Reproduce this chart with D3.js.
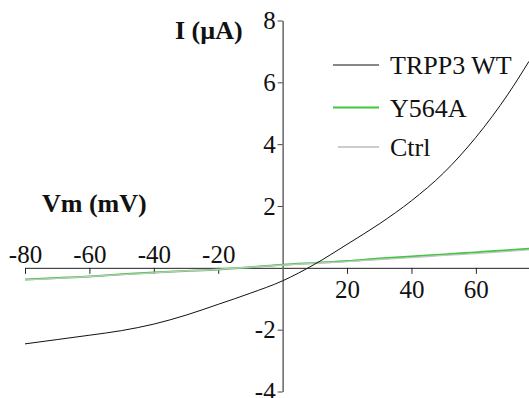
<!DOCTYPE html>
<html>
<head>
<meta charset="utf-8">
<script src="https://cdn.jsdelivr.net/npm/d3@7"></script>
<style>
  body { margin: 0; background: #fff; }
</style>
</head>
<body>
<div id="plot"></div>
<script>
// Chart size
var svgWidth = 529;
var svgHeight = 398;
var serif = "'Liberation Serif', 'Times New Roman', Times, serif";

// Data (membrane voltage in mV, current in µA)
var voltages = [-80, -70, -60, -50, -40, -30, -20, -10, 0, 10, 20, 30, 40, 50, 60, 70, 76.5];
var wtCurrent = [-2.46, -2.32, -2.18, -2.03, -1.82, -1.53, -1.18, -0.82, -0.42, 0.12, 0.76, 1.42, 2.17, 3.07, 4.22, 5.62, 6.68];
var y564aCurrent = [-0.38, -0.33, -0.28, -0.21, -0.15, -0.1, -0.05, 0.02, 0.1, 0.16, 0.22, 0.3, 0.37, 0.43, 0.5, 0.57, 0.62];
var ctrlCurrent = [-0.39, -0.34, -0.28, -0.22, -0.16, -0.1, -0.05, 0.02, 0.09, 0.15, 0.2, 0.27, 0.33, 0.4, 0.46, 0.53, 0.58];

var xTicks = [-80, -60, -40, -20, 20, 40, 60];
var yTicks = [-4, -2, 2, 4, 6, 8];
var seriesNames = ["TRPP3 WT", "Y564A", "Ctrl"];
var seriesColors = ["#111111", "#3ec83e", "#9a9a9a"];

var svg = d3.select("#plot")
  .append("svg")
  .attr("width", svgWidth)
  .attr("height", svgHeight)
  .style("font-family", serif);

// Scales
var xScale = d3.scaleLinear()
  .domain([-80, 76.5])
  .range([25, 529]);

var yScale = d3.scaleLinear()
  .domain([-4, 8])
  .range([391.5, 20.5]);

// plain hyphen for negatives, like the original
var plainFormat = function(d) { return String(d); };

// Lines
var drawLine = function(values) {
  return d3.line()
    .x(function(d, i) { return xScale(voltages[i]); })
    .y(function(d) { return yScale(d); })
    .curve(d3.curveMonotoneX)(values);
};

// x axis (crosses at I = 0)
var xAxis = svg.append("g")
  .attr("transform", `translate(0, ${yScale(0)})`)
  .call(d3.axisBottom(xScale).tickValues(xTicks).tickFormat(plainFormat).tickSize(6).tickSizeOuter(0));

xAxis.attr("font-family", serif).attr("font-size", 25);
xAxis.select(".domain").attr("stroke", "#222");
xAxis.selectAll(".tick line").attr("stroke", "#222");
xAxis.selectAll(".tick text")
  .style("font-family", serif)
  .style("font-size", "25px")
  .attr("fill", "#111")
  .attr("y", function(d) { return d < 0 ? -5 : 12; })
  .attr("dy", function(d) { return d < 0 ? "0" : "0.71em"; });

// y axis (crosses at Vm = 0)
var yAxis = svg.append("g")
  .attr("transform", `translate(${xScale(0)}, 0)`)
  .call(d3.axisLeft(yScale).tickValues(yTicks).tickFormat(plainFormat).tickSize(5).tickSizeOuter(0).tickPadding(2));

yAxis.attr("font-family", serif).attr("font-size", 25);
yAxis.select(".domain").attr("stroke", "#666").attr("stroke-width", 1.5);
yAxis.selectAll(".tick line").attr("stroke", "#444");
yAxis.selectAll(".tick text")
  .style("font-family", serif)
  .style("font-size", "25px")
  .attr("fill", "#111");

// curves
svg.append("path")
  .attr("d", drawLine(y564aCurrent))
  .attr("fill", "none")
  .attr("stroke", seriesColors[1])
  .attr("stroke-width", 2);

svg.append("path")
  .attr("d", drawLine(ctrlCurrent))
  .attr("fill", "none")
  .attr("stroke", "#c4c4c4")
  .attr("stroke-width", 1.3);

svg.append("path")
  .attr("d", drawLine(wtCurrent))
  .attr("fill", "none")
  .attr("stroke", seriesColors[0])
  .attr("stroke-width", 1);

// axis titles
svg.append("text")
  .attr("x", 175)
  .attr("y", 39)
  .style("font-family", serif)
  .style("font-size", "26px")
  .style("font-weight", "bold")
  .attr("fill", "#111")
  .text("I (µA)");

svg.append("text")
  .attr("x", 42)
  .attr("y", 212)
  .style("font-family", serif)
  .style("font-size", "26px")
  .style("font-weight", "bold")
  .attr("fill", "#111")
  .text("Vm (mV)");

// legend
var legendY = [65, 107.5, 147];
var legendX1 = [333, 333, 338];
var legendWidth = [1, 2, 1];

var legend = svg.append("g");
seriesNames.forEach(function(name, i) {
  legend.append("line")
    .attr("x1", legendX1[i])
    .attr("x2", 379)
    .attr("y1", legendY[i])
    .attr("y2", legendY[i])
    .attr("stroke", seriesColors[i])
    .attr("stroke-width", legendWidth[i]);
  legend.append("text")
    .attr("x", 390)
    .attr("y", legendY[i] + 9)
    .style("font-family", serif)
    .style("font-size", "26px")
    .attr("fill", "#111")
    .text(name);
});
</script>
</body>
</html>
